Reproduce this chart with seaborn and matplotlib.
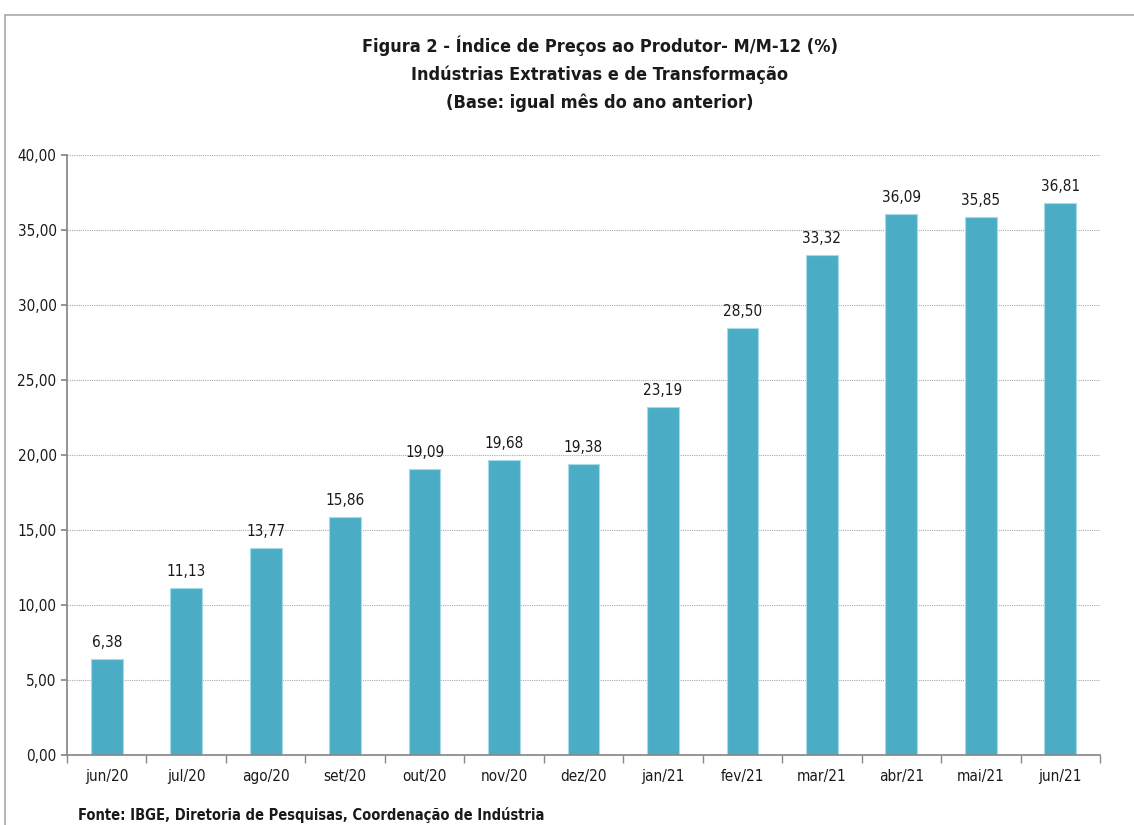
import matplotlib
matplotlib.use('Agg')
import matplotlib.pyplot as plt
import seaborn as sns
import pandas as pd
from matplotlib.lines import Line2D
from matplotlib.ticker import FixedLocator

# Dados
meses = ['jun/20', 'jul/20', 'ago/20', 'set/20', 'out/20', 'nov/20', 'dez/20',
         'jan/21', 'fev/21', 'mar/21', 'abr/21', 'mai/21', 'jun/21']
valores = [6.38, 11.13, 13.77, 15.86, 19.09, 19.68, 19.38,
           23.19, 28.50, 33.32, 36.09, 35.85, 36.81]
yticks = [0, 5, 10, 15, 20, 25, 30, 35, 40]

df = pd.DataFrame({'mes': meses, 'valor': valores})

sns.set_theme(style='white')
plt.rcParams['font.family'] = ['DejaVu Sans']
plt.rcParams['font.stretch'] = 'condensed'

fig = plt.figure(figsize=(11.34, 8.25), dpi=100)
ax = fig.add_axes([0.0591, 0.0848, 0.9109, 0.7273])

sns.barplot(data=df, x='mes', y='valor', color='#4BACC6', width=0.4,
            edgecolor='#a8dbe8', linewidth=0.8, saturation=1, ax=ax)

ax.set_ylim(0, 40)
ax.set_xlim(-0.5, len(meses) - 0.5)
ax.set_yticks(yticks)
ax.set_yticklabels([f'{v:.2f}'.replace('.', ',') for v in yticks], fontsize=11, color='#1a1a1a')
ax.set_xlabel('')
ax.set_ylabel('')
ax.tick_params(axis='x', which='major', length=0, labelsize=11, pad=10, colors='#1a1a1a')
ax.xaxis.set_minor_locator(FixedLocator([i - 0.5 for i in range(len(meses) + 1)]))
ax.tick_params(axis='x', which='minor', length=6, color='#888888', direction='out', bottom=True)
ax.tick_params(axis='y', length=4, color='#888888', direction='out', left=True)

ax.grid(axis='y', linestyle=(0, (1, 1)), color='#aaaaaa', linewidth=0.8)
ax.set_axisbelow(True)
for s in ['top', 'right']:
    ax.spines[s].set_visible(False)
ax.spines['left'].set_color('#888888')
ax.spines['bottom'].set_color('#888888')

# Rótulos das barras
for i, v in enumerate(valores):
    ax.text(i, v + 0.6, f'{v:.2f}'.replace('.', ','), ha='center', va='bottom',
            fontsize=11, color='#1a1a1a')

# Títulos
for y, t in [(0.945, 'Figura 2 - Índice de Preços ao Produtor- M/M-12 (%)'),
             (0.910, 'Indústrias Extrativas e de Transformação'),
             (0.875, '(Base: igual mês do ano anterior)')]:
    fig.text(0.529, y, t, ha='center', va='center', fontsize=13,
             fontweight='bold', color='#1a1a1a')

# Fonte
fig.text(0.069, 0.002, 'Fonte: IBGE, Diretoria de Pesquisas, Coordenação de Indústria',
         ha='left', va='bottom', fontsize=10.5, fontweight='bold', color='#1a1a1a')

# Moldura
fig.add_artist(Line2D([5 / 1134, 1.0], [1 - 15 / 825, 1 - 15 / 825], color='#aaaaaa', linewidth=1.2))
fig.add_artist(Line2D([5 / 1134, 5 / 1134], [0.0, 1 - 15 / 825], color='#aaaaaa', linewidth=1.2))

fig.savefig('out.png', dpi=100)
